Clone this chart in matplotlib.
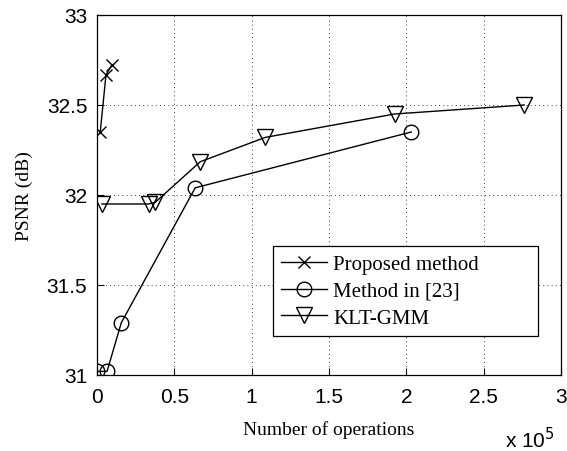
import matplotlib.pyplot as plt

# operations (x 1e5) and PSNR (dB)
proposed_ops = [0.021, 0.058, 0.097]
proposed_psnr = [32.35, 32.667, 32.724]

ref23_ops = [0.0, 0.065, 0.157, 0.635, 2.032]
ref23_psnr = [31.02, 31.02, 31.29, 32.04, 32.35]

klt_ops = [0.032, 0.334, 0.377, 0.668, 1.088, 1.924, 2.762]
klt_psnr = [31.95, 31.95, 31.96, 32.185, 32.32, 32.45, 32.50]

x_ticks = [0, 0.5, 1, 1.5, 2, 2.5, 3]
x_labels = ["0", "0.5", "1", "1.5", "2", "2.5", "3"]
y_ticks = [31, 31.5, 32, 32.5, 33]
y_labels = ["31", "31.5", "32", "32.5", "33"]

sans = "Liberation Sans"
serif = "Liberation Serif"

fig = plt.figure(figsize=(5.67, 4.52), dpi=100)
ax = fig.add_axes([97 / 567, 1 - 376 / 452, 464 / 567, 360 / 452])

ax.plot(proposed_ops, proposed_psnr, color="black", lw=1.0, marker="x",
        ms=9, mew=1.0, label="Proposed method")
ax.plot(ref23_ops, ref23_psnr, color="black", lw=1.0, marker="o",
        ms=10.5, mfc="none", mew=1.0, label="Method in [23]")
ax.plot(klt_ops, klt_psnr, color="black", lw=1.0, marker="v",
        ms=11, mfc="none", mew=1.0, label="KLT-GMM")

ax.set_xlim(0, 3)
ax.set_ylim(31, 33)
ax.set_xticks(x_ticks)
ax.set_xticklabels(x_labels, fontfamily=sans, fontsize=15)
ax.set_yticks(y_ticks)
ax.set_yticklabels(y_labels, fontfamily=sans, fontsize=15)
ax.tick_params(direction="in", length=5, width=0.8)
ax.tick_params(axis="x", pad=9)
ax.tick_params(axis="y", pad=7)
ax.grid(True, color="black", linestyle=(0, (1, 4)), linewidth=0.6)
for s in ax.spines.values():
    s.set_linewidth(0.9)

ax.set_xlabel("Number of operations", fontfamily=serif, fontsize=14, labelpad=10)
ax.set_ylabel("PSNR (dB)", fontfamily=serif, fontsize=14, labelpad=10)
fig.text(530 / 567, 1 - 440 / 452, r"x 10$^5$", fontfamily=sans, fontsize=15,
         ha="center", va="center")

leg = ax.legend(loc="lower left", bbox_to_anchor=((273 - 97) / 464, (376 - 337) / 360,
                                                   (538 - 273) / 464, (337 - 236) / 360),
                mode="expand", prop={"family": serif, "size": 15}, frameon=True,
                fancybox=False, edgecolor="black", framealpha=1, borderpad=0.4,
                handlelength=2.2, handletextpad=0.3, labelspacing=0.35,
                borderaxespad=0)
leg.get_frame().set_linewidth(0.9)

fig.savefig("out.png", dpi=100)
